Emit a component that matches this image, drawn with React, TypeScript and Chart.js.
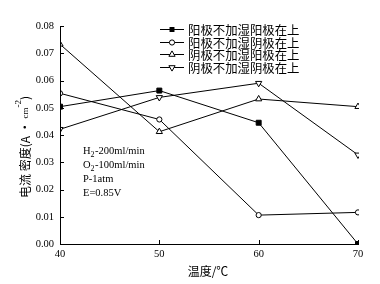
import React, { useEffect, useRef } from "react";
import { Chart, registerables } from "chart.js";

Chart.register(...registerables);

const temperatures = [40, 50, 60, 70];
const seriesNames = ["阳极不加湿阳极在上", "阳极不加湿阴极在上", "阴极不加湿阳极在上", "阴极不加湿阴极在上"];
const anodeDryAnodeTop = [0.0504, 0.0563, 0.0445, 0.0];
const anodeDryCathodeTop = [0.0553, 0.0457, 0.0106, 0.0116];
const cathodeDryAnodeTop = [0.0733, 0.0412, 0.0532, 0.0504];
const cathodeDryCathodeTop = [0.0421, 0.0538, 0.059, 0.0327];
const yTickValues = [0, 0.01, 0.02, 0.03, 0.04, 0.05, 0.06, 0.07, 0.08];
const xTickValues = [40, 50, 60, 70];
const conditionLines = ["H|2|-200ml/min", "O|2|-100ml/min", "P-1atm", "E=0.85V"];
const xTitle = "温度/℃";
const yTitleParts = ["电流 密度(A • ", "cm", "-2", ")"];

const markerStyles = [
  { pointStyle: "rect", fill: true, radius: 3.5, rotation: 0 },
  { pointStyle: "circle", fill: false, radius: 2.6, rotation: 0 },
  { pointStyle: "triangle", fill: false, radius: 3.6, rotation: 0 },
  { pointStyle: "triangle", fill: false, radius: 3.6, rotation: 180 },
];

const serif = "'Liberation Serif', 'DejaVu Serif', serif";
const cjk = "'Noto Sans CJK SC', sans-serif";

function drawMarker(ctx: CanvasRenderingContext2D, idx: number, x: number, y: number) {
  const m = markerStyles[idx];
  ctx.beginPath();
  if (m.pointStyle === "rect") {
    const s = m.radius * Math.SQRT1_2;
    ctx.rect(x - s, y - s, 2 * s, 2 * s);
    ctx.fillStyle = "#000";
    ctx.fill();
  } else if (m.pointStyle === "circle") {
    ctx.arc(x, y, m.radius, 0, Math.PI * 2);
    ctx.fillStyle = "#fff";
    ctx.fill();
    ctx.stroke();
  } else {
    const r = m.radius;
    const dir = m.rotation === 180 ? -1 : 1;
    ctx.moveTo(x, y - dir * r);
    ctx.lineTo(x - r * 0.866, y + dir * r * 0.5);
    ctx.lineTo(x + r * 0.866, y + dir * r * 0.5);
    ctx.closePath();
    ctx.fillStyle = "#fff";
    ctx.fill();
    ctx.stroke();
  }
}

const overlayPlugin = {
  id: "overlay",
  afterDraw(chart: any) {
    const ctx: CanvasRenderingContext2D = chart.ctx;
    const xs = chart.scales.x;
    const ys = chart.scales.y;
    const area = chart.chartArea;
    ctx.save();
    ctx.strokeStyle = "#000";
    ctx.fillStyle = "#000";
    ctx.lineWidth = 1;
    // axis lines redrawn over clipped markers
    ctx.beginPath();
    ctx.moveTo(area.left + 0.5, area.top);
    ctx.lineTo(area.left + 0.5, area.bottom + 0.5);
    ctx.lineTo(area.right, area.bottom + 0.5);
    // inside ticks
    yTickValues.forEach((v) => {
      const py = Math.round(ys.getPixelForValue(v)) + 0.5;
      ctx.moveTo(area.left, py);
      ctx.lineTo(area.left + 4, py);
    });
    xTickValues.forEach((v) => {
      const px = Math.round(xs.getPixelForValue(v)) + 0.5;
      ctx.moveTo(px, area.bottom);
      ctx.lineTo(px, area.bottom - 4);
    });
    ctx.stroke();

    // legend
    const legX0 = 160;
    const legX1 = 184;
    const legY0 = 29;
    const legStep = 12.7;
    ctx.font = `12.4px ${cjk}`;
    ctx.textBaseline = "middle";
    ctx.textAlign = "left";
    seriesNames.forEach((name, i) => {
      const y = Math.round(legY0 + i * legStep) + 0.5;
      ctx.beginPath();
      ctx.moveTo(legX0, y);
      ctx.lineTo(legX1, y);
      ctx.stroke();
      drawMarker(ctx, i, (legX0 + legX1) / 2, y);
      ctx.fillStyle = "#000";
      ctx.fillText(name, 188, y + 0.5);
    });

    // conditions annotation
    const annX = 83;
    conditionLines.forEach((line, i) => {
      const y = 151 + i * 14;
      const parts = line.split("|");
      let x = annX;
      parts.forEach((p, j) => {
        const sub = j === 1;
        ctx.font = sub ? `8px ${serif}` : `10.5px ${serif}`;
        ctx.fillText(p, x, sub ? y + 4 : y);
        x += ctx.measureText(p).width + (sub ? 0.5 : 0);
      });
    });

    // x title
    ctx.font = `12px ${cjk}`;
    ctx.textAlign = "center";
    ctx.fillText(xTitle, 208, 271);

    // y title (rotated)
    ctx.save();
    ctx.translate(25, 147);
    ctx.rotate(-Math.PI / 2);
    const fonts = [`12px ${cjk}`, `9px ${serif}`, `9px ${serif}`, `12px ${cjk}`];
    let total = 0;
    yTitleParts.forEach((p, i) => {
      ctx.font = fonts[i];
      total += ctx.measureText(p).width;
    });
    let tx = -total / 2;
    ctx.textAlign = "left";
    yTitleParts.forEach((p, i) => {
      ctx.font = fonts[i];
      const dy = i === 2 ? -6 : i === 1 ? 1 : 0;
      ctx.fillText(p, tx, dy);
      tx += ctx.measureText(p).width;
    });
    ctx.restore();

    ctx.restore();
  },
};

export default function App() {
  const canvasRef = useRef<HTMLCanvasElement | null>(null);

  useEffect(() => {
    if (!canvasRef.current) return;
    const seriesData = [anodeDryAnodeTop, anodeDryCathodeTop, cathodeDryAnodeTop, cathodeDryCathodeTop];
    const chart = new Chart(canvasRef.current, {
      type: "line",
      data: {
        datasets: seriesData.map((vals, i) => ({
          label: seriesNames[i],
          data: temperatures.map((t, k) => ({ x: t, y: vals[k] })),
          borderColor: "#000",
          borderWidth: 1,
          backgroundColor: markerStyles[i].fill ? "#000" : "#fff",
          pointBackgroundColor: markerStyles[i].fill ? "#000" : "#fff",
          pointBorderColor: "#000",
          pointBorderWidth: 1,
          pointStyle: markerStyles[i].pointStyle as any,
          pointRotation: markerStyles[i].rotation,
          pointRadius: markerStyles[i].radius,
          tension: 0,
          fill: false,
          clip: { left: 0, right: 1, top: 5, bottom: 1 },
        })),
      },
      options: {
        animation: false,
        responsive: false,
        events: [],
        layout: { padding: { left: 0, right: 22, top: 26, bottom: 0 } },
        plugins: { legend: { display: false }, tooltip: { enabled: false } },
        scales: {
          x: {
            type: "linear",
            min: 40,
            max: 70,
            afterFit: (s: any) => {
              s.height = 40;
            },
            afterBuildTicks: (s: any) => {
              s.ticks = xTickValues.map((v) => ({ value: v }));
            },
            grid: { display: false, drawTicks: false },
            border: { display: true, color: "#000", width: 1 },
            ticks: {
              color: "#000",
              padding: 4,
              maxRotation: 0,
              font: { family: serif, size: 10.5 },
              callback: (v: any) => String(v),
            },
          },
          y: {
            type: "linear",
            min: 0,
            max: 0.08,
            afterFit: (s: any) => {
              s.width = 60;
            },
            afterBuildTicks: (s: any) => {
              s.ticks = yTickValues.map((v) => ({ value: v }));
            },
            grid: { display: false, drawTicks: false },
            border: { display: true, color: "#000", width: 1 },
            ticks: {
              color: "#000",
              padding: 6,
              font: { family: serif, size: 10.5 },
              callback: (v: any) => Number(v).toFixed(2),
            },
          },
        },
      },
      plugins: [overlayPlugin],
    });
    return () => chart.destroy();
  }, []);

  return (
    <div style={{ position: "absolute", left: 0, top: 0, width: 380, height: 284, background: "#fff" }}>
      <canvas ref={canvasRef} width={380} height={284} style={{ display: "block" }} />
    </div>
  );
}
